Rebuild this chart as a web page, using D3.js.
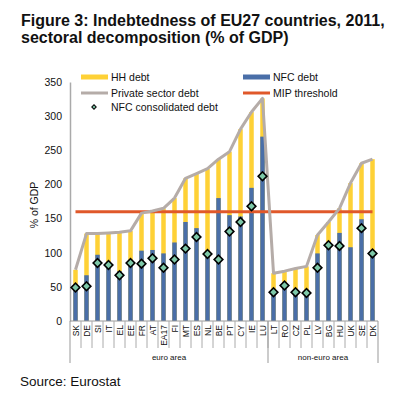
<!DOCTYPE html>
<html>
<head>
<meta charset="utf-8">
<script src="https://cdn.jsdelivr.net/npm/d3@7"></script>
<style>
  body { margin: 0; background: #fff; }
  svg text { font-family: "Liberation Sans", Arial, sans-serif; fill: #111; }
</style>
</head>
<body>
<svg id="chart" width="397" height="400"></svg>
<script>
// values (% of GDP)
var countries = ["SK","DE","SI","IT","EL","EE","FR","AT","EA17","FI","MT","ES","NL","BE","PT","CY","IE","LU",
                 "LT","RO","CZ","PL","LV","BG","HU","UK","SE","DK"];
var privateDebt = [75,128,128,129,130,132,158,161,165,180,209,216,223,237,248,281,306,326,
                   70,73,77,80,126,145,165,202,231,237];
var nfcDebt = [50,67,97,84,73,89,103,104,99,115,145,136,101,180,155,153,195,270,
               43,55,46,45,99,114,129,108,149,101];
var nfcConsolidated = [49,51,85,82,67,85,84,92,78,90,106,123,98,90,131,145,168,212,
                       42,52,42,41,78,111,110,null,136,99];
var mipThreshold = 160;
var groupNames = ["euro area","non-euro area"];
var groupSizes = [18,10];
var yTicks = [0,50,100,150,200,250,300,350];

var colYellow = '#fed136', colBlue = '#4a6fa8', colGray = '#b5aca8', colRed = '#e0582a', colDiamond = '#7dc8a8';

var svg = d3.select('#chart');

var x = d3.scaleBand().domain(countries).range([70,378]).padding(0);
var y = d3.scaleLinear().domain([0,350]).range([321,82]);
var barW = 4.5;
var cx = function(c){ return x(c) + x.bandwidth()/2; };

// title
svg.append('text').attr('x',21).attr('y',26)
   .style('font-size','16px').style('font-weight','bold')
   .text('Figure 3: Indebtedness of EU27 countries, 2011,');
svg.append('text').attr('x',21).attr('y',43)
   .style('font-size','16px').style('font-weight','bold')
   .text('sectoral decomposition (% of GDP)');

// y axis
var yAxis = svg.append('g').attr('transform','translate(70,0)')
   .call(d3.axisLeft(y).tickValues(yTicks).tickSize(0).tickPadding(8));
yAxis.select('.domain').attr('stroke','#aaa').attr('stroke-width',1.5);
yAxis.selectAll('text').style('font-size','10.5px').style('font-family','"Liberation Sans", Arial, sans-serif').attr('fill','#111');

svg.append('text')
   .attr('transform','translate(38,205) rotate(-90)')
   .attr('text-anchor','middle')
   .style('font-size','10.5px')
   .text('% of GDP');

// bars: private sector total (yellow = HH part) behind, NFC in blue
var rows = countries.map(function(c,i){
  return {c:c, priv:privateDebt[i], nfc:nfcDebt[i], cons:nfcConsolidated[i]};
});

svg.append('g').selectAll('rect').data(rows).enter().append('rect')
   .attr('x',function(d){ return cx(d.c) - barW/2; })
   .attr('y',function(d){ return y(d.priv); })
   .attr('width',barW)
   .attr('height',function(d){ return y(0) - y(d.priv); })
   .attr('fill',colYellow);

svg.append('g').selectAll('rect').data(rows).enter().append('rect')
   .attr('x',function(d){ return cx(d.c) - barW/2; })
   .attr('y',function(d){ return y(d.nfc); })
   .attr('width',barW)
   .attr('height',function(d){ return y(0) - y(d.nfc); })
   .attr('fill',colBlue);

// MIP threshold line
svg.append('path')
   .datum(countries)
   .attr('d', d3.line().x(cx).y(function(){ return y(mipThreshold); }))
   .attr('fill','none').attr('stroke',colRed).attr('stroke-width',3);

// private sector debt line
svg.append('path')
   .datum(rows)
   .attr('d', d3.line().x(function(d){ return cx(d.c); }).y(function(d){ return y(d.priv); }))
   .attr('fill','none').attr('stroke',colGray).attr('stroke-width',3).attr('stroke-linejoin','round');

// NFC consolidated debt markers
var diamond = d3.symbol().type(d3.symbolSquare).size(38);
svg.append('g').selectAll('path').data(rows.filter(function(d){ return d.cons != null; })).enter().append('path')
   .attr('d',diamond)
   .attr('transform',function(d){ return 'translate(' + cx(d.c) + ',' + y(d.cons) + ') rotate(45)'; })
   .attr('fill',colDiamond).attr('stroke','#000').attr('stroke-width',1.6);

// x axis: baseline, category separators, group brackets
var axisG = svg.append('g');
axisG.append('line').attr('x1',70).attr('x2',378).attr('y1',y(0)).attr('y2',y(0))
     .attr('stroke','#999').attr('stroke-width',1);
axisG.selectAll('line.sep').data(countries.slice(1)).enter().append('line')
     .attr('x1',function(c){ return x(c); }).attr('x2',function(c){ return x(c); })
     .attr('y1',y(0)).attr('y2',348)
     .attr('stroke','#aaa').attr('stroke-width',1);

var start = 0;
var groupEdges = [0];
groupSizes.forEach(function(n){ start += n; groupEdges.push(start); });
var edgeX = function(k){ return k < countries.length ? x(countries[k]) : x(countries[countries.length-1]) + x.bandwidth(); };
axisG.selectAll('line.grp').data(groupEdges).enter().append('line')
     .attr('x1',edgeX).attr('x2',edgeX)
     .attr('y1',y(0)).attr('y2',363)
     .attr('stroke','#999').attr('stroke-width',1);
axisG.selectAll('text.grp').data(groupNames).enter().append('text')
     .attr('x',function(g,i){ return (edgeX(groupEdges[i]) + edgeX(groupEdges[i+1]))/2; })
     .attr('y',360)
     .attr('text-anchor','middle')
     .style('font-size','8px')
     .text(function(g){ return g; });

axisG.selectAll('text.cat').data(countries).enter().append('text')
     .attr('transform',function(c){ return 'translate(' + (cx(c)+3) + ',' + (y(0)+4) + ') rotate(-90)'; })
     .attr('text-anchor','end')
     .style('font-size','8.5px')
     .text(function(c){ return c; });

// legend
var legendItems = [
  {label:'HH debt', col:colYellow, w:5, lx:81, ly:77},
  {label:'NFC debt', col:colBlue, w:5, lx:243, ly:77},
  {label:'Private sector debt', col:colGray, w:3, lx:81, ly:93},
  {label:'MIP threshold', col:colRed, w:3, lx:243, ly:93}
];
var leg = svg.append('g');
legendItems.forEach(function(it){
  leg.append('line').attr('x1',it.lx).attr('x2',it.lx+27).attr('y1',it.ly).attr('y2',it.ly)
     .attr('stroke',it.col).attr('stroke-width',it.w);
  leg.append('text').attr('x',it.lx+30).attr('y',it.ly+3.8)
     .style('font-size','10.5px').text(it.label);
});
leg.append('path').attr('d',d3.symbol().type(d3.symbolSquare).size(10))
   .attr('transform','translate(94,107) rotate(45)')
   .attr('fill',colDiamond).attr('stroke','#000').attr('stroke-width',1);
leg.append('text').attr('x',111).attr('y',110.8).style('font-size','10.5px').text('NFC consolidated debt');

// source
svg.append('text').attr('x',20).attr('y',386).style('font-size','13.5px').text('Source: Eurostat');
</script>
</body>
</html>
